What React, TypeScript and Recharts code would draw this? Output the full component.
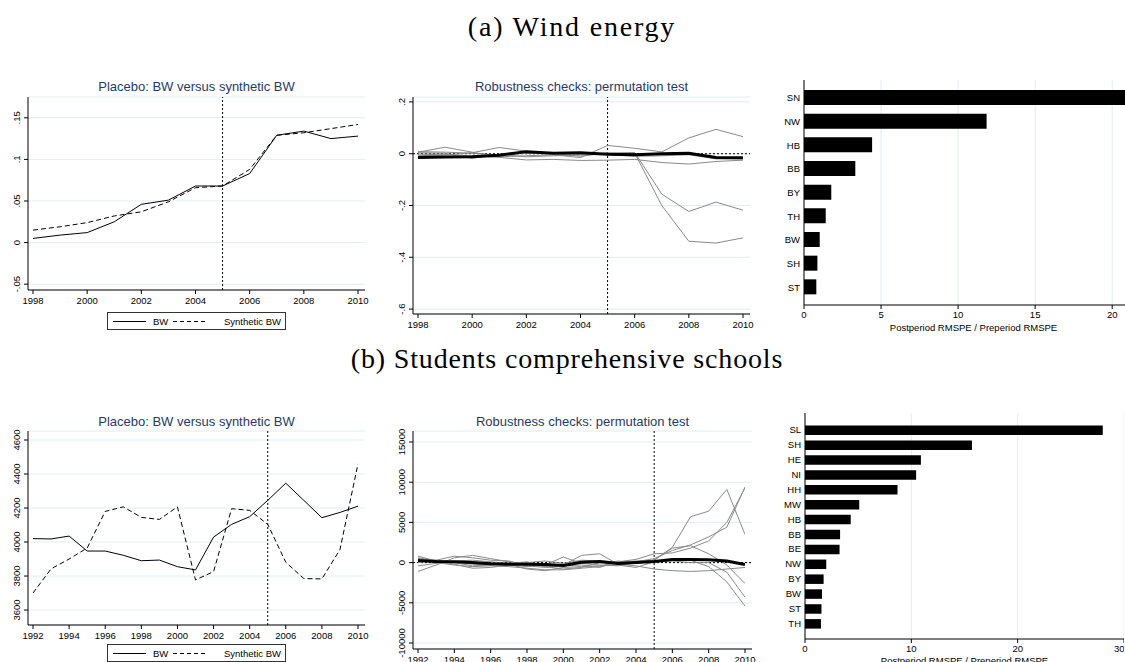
import React from 'react';
import {
  LineChart,
  Line,
  BarChart,
  Bar,
  XAxis,
  YAxis,
  CartesianGrid,
  ReferenceLine,
} from 'recharts';

// ---- (a) wind energy ----
const windYears = [1998, 1999, 2000, 2001, 2002, 2003, 2004, 2005, 2006, 2007, 2008, 2009, 2010];
const windYearTicks = [1998, 2000, 2002, 2004, 2006, 2008, 2010];
const windBW = [0.005, 0.009, 0.012, 0.025, 0.046, 0.051, 0.068, 0.068, 0.083, 0.129, 0.134, 0.125, 0.128];
const windSynthBW = [0.015, 0.019, 0.024, 0.032, 0.037, 0.049, 0.066, 0.068, 0.088, 0.129, 0.132, 0.137, 0.142];
const windLevelTicks = [-0.05, 0, 0.05, 0.1, 0.15];

const windGapBW = [-0.015, -0.013, -0.012, -0.006, 0.008, 0.002, 0.004, -0.002, -0.004, 0.0, 0.002, -0.015, -0.016];
const windGapA = [0.006, 0.025, 0.006, -0.012, -0.008, -0.004, -0.015, 0.032, 0.021, 0.007, 0.061, 0.094, 0.066];
const windGapB = [-0.008, -0.005, 0.004, 0.024, 0.01, 0.002, -0.01, 0.004, 0.003, -0.2, -0.338, -0.345, -0.325];
const windGapC = [0.004, 0.002, -0.018, -0.002, -0.012, -0.008, -0.005, -0.002, 0.005, -0.156, -0.223, -0.187, -0.218];
const windGapD = [-0.002, -0.004, -0.008, -0.014, -0.024, -0.022, -0.026, -0.025, -0.022, -0.034, -0.04, -0.03, -0.025];
const windGapE = [0.008, 0.006, 0.002, -0.005, 0.002, 0.001, 0.002, -0.003, -0.01, -0.008, -0.004, -0.02, -0.02];
const windGapTicks = [-0.6, -0.4, -0.2, 0, 0.2];

const windStates = ['SN', 'NW', 'HB', 'BB', 'BY', 'TH', 'BW', 'SH', 'ST'];
const windRatios = [21.2, 11.85, 4.42, 3.33, 1.77, 1.41, 1.02, 0.87, 0.8];
const windRatioTicks = [0, 5, 10, 15, 20];

// ---- (b) students comprehensive schools ----
const schoolYears = [1992, 1993, 1994, 1995, 1996, 1997, 1998, 1999, 2000, 2001, 2002, 2003, 2004, 2005, 2006, 2007, 2008, 2009, 2010];
const schoolYearTicks = [1992, 1994, 1996, 1998, 2000, 2002, 2004, 2006, 2008, 2010];
const schoolBW = [4020, 4018, 4035, 3947, 3947, 3922, 3890, 3894, 3855, 3836, 4029, 4104, 4149, 4245, 4346, 4245, 4143, 4174, 4211];
const schoolSynthBW = [3700, 3842, 3900, 3965, 4180, 4207, 4145, 4133, 4207, 3777, 3826, 4196, 4186, 4104, 3881, 3785, 3783, 3955, 4460];
const schoolLevelTicks = [3600, 3800, 4000, 4200, 4400, 4600];

const schoolGapBW = [250, 150, 100, 0, -150, -200, -200, -250, -350, 50, 150, -100, 0, 150, 400, 400, 350, 200, -250];
const schoolGapA = [800, 200, -200, -700, -600, -300, -500, -300, 700, -100, -300, -400, 0, 300, 1900, 5700, 6400, 9100, 3500];
const schoolGapB = [-1100, -300, 600, 900, 500, 100, -200, -500, -300, 900, 1100, -200, 100, 500, 1500, 2200, 3200, 4400, 9400];
const schoolGapC = [-400, -100, 200, 300, 100, -100, 0, 200, -100, 300, 200, 100, 400, 1100, 1200, 1800, 2700, 5000, 9300];
const schoolGapD = [500, 300, 800, 600, 300, 200, -400, -600, -400, -300, -600, 100, 200, 300, 1800, 2100, 1100, -300, -2600];
const schoolGapE = [200, 0, -300, -500, -400, -500, -700, -900, -900, -700, -500, 200, -100, 200, 300, 300, -500, -2400, -5400];
const schoolGapF = [0, 300, 100, -200, -300, -200, -800, -1000, -600, -500, -400, -300, -600, 100, 200, 0, 0, -1200, -4300];
const schoolGapG = [600, 200, 0, -400, -300, -100, 100, -500, -800, -600, 0, -200, -400, -800, -1000, -1100, -1000, -800, -600];
const schoolGapTicks = [-10000, -5000, 0, 5000, 10000, 15000];

const schoolStates = ['SL', 'SH', 'HE', 'NI', 'HH', 'MW', 'HB', 'BB', 'BE', 'NW', 'BY', 'BW', 'ST', 'TH'];
const schoolRatios = [28, 15.7, 10.9, 10.45, 8.7, 5.1, 4.3, 3.3, 3.25, 2.0, 1.75, 1.6, 1.55, 1.5];
const schoolRatioTicks = [0, 10, 20, 30];

const FONT = '"Liberation Sans", Arial, Helvetica, sans-serif';
const SERIF = '"Liberation Serif", "Times New Roman", serif';
const GRID = '#e2ecef';
const NAVY = '#1f3b66';
const GRAY = '#8a8a8a';

const YW = 26;
const PT = 10;
const PR = 12;
const XH = 24;

const stataNum = (v: number) => String(Math.round(v * 10000) / 10000).replace(/^(-?)0\./, '$1.');

const RotTick = (props: any) => {
  const { x, y, payload, fmt } = props;
  return (
    <g transform={`translate(${x},${y})`}>
      <text transform="rotate(-90)" textAnchor="middle" fontSize={9.5} fill="#000" fontFamily={FONT}>
        {fmt(payload.value)}
      </text>
    </g>
  );
};

const zipRows = (years: number[], cols: Record<string, number[]>) =>
  years.map((year, i) => {
    const row: Record<string, number> = { year };
    Object.keys(cols).forEach((k) => (row[k] = cols[k][i]));
    return row;
  });

function LinePanel({ box, rows, xDomain, xTicks, yDomain, yTicks, yFmt, series, zeroLine }: any) {
  const width = box.x1 - box.x0 + YW + PR;
  const height = box.y1 - box.y0 + PT + XH;
  return (
    <div style={{ position: 'absolute', left: box.x0 - YW, top: box.y0 - PT }}>
      <LineChart width={width} height={height} data={rows} margin={{ top: PT, right: PR, bottom: 0, left: 0 }}>
        <CartesianGrid vertical={false} stroke={GRID} />
        <XAxis
          type="number"
          dataKey="year"
          domain={xDomain}
          ticks={xTicks}
          allowDataOverflow
          padding={{ left: 5, right: 7 }}
          height={XH}
          tickSize={4}
          tickMargin={3}
          stroke="#000"
          tick={{ fontSize: 9.5, fill: '#000', fontFamily: FONT }}
        />
        <YAxis
          type="number"
          domain={yDomain}
          ticks={yTicks}
          allowDataOverflow
          width={YW}
          tickSize={4}
          tickMargin={4.5}
          stroke="#000"
          tick={<RotTick fmt={yFmt} />}
        />
        {zeroLine && <ReferenceLine y={0} stroke="#000" strokeDasharray="2 2" />}
        <ReferenceLine x={2005} stroke="#000" strokeDasharray="2 2" />
        {series.map((s: any) => (
          <Line
            key={s.key}
            type="linear"
            dataKey={s.key}
            stroke={s.color}
            strokeWidth={s.width}
            strokeDasharray={s.dash}
            dot={false}
            isAnimationActive={false}
          />
        ))}
      </LineChart>
    </div>
  );
}

function BarPanel({ box, rows, xDomain, xTicks, padTop, padBottom, barSize, xh, labelOffset }: any) {
  const width = box.x1 - box.x0 + YW;
  const height = box.y1 - box.y0 + PT + xh;
  return (
    <div style={{ position: 'absolute', left: box.x0 - YW, top: box.y0 - PT }}>
      <BarChart layout="vertical" width={width} height={height} data={rows} margin={{ top: PT, right: 0, bottom: 0, left: 0 }}>
        <CartesianGrid horizontal={false} stroke={GRID} />
        <XAxis
          type="number"
          domain={xDomain}
          ticks={xTicks}
          allowDataOverflow
          height={xh}
          tickSize={4}
          tickMargin={2}
          stroke="#000"
          tick={{ fontSize: 9.5, fill: '#000', fontFamily: FONT }}
          label={{
            value: 'Postperiod RMSPE / Preperiod RMSPE',
            position: 'insideBottom',
            offset: labelOffset,
            fontSize: 9.5,
            fill: '#000',
            fontFamily: FONT,
          }}
        />
        <YAxis
          type="category"
          dataKey="state"
          width={YW}
          interval={0}
          tickLine={false}
          tickSize={0}
          tickMargin={4}
          stroke="#000"
          padding={{ top: padTop, bottom: padBottom }}
          tick={{ fontSize: 9.5, fill: '#000', fontFamily: FONT }}
        />
        <Bar dataKey="ratio" fill="#000" barSize={barSize} isAnimationActive={false} />
      </BarChart>
    </div>
  );
}

function Title({ text, x0, x1, cy }: any) {
  return (
    <div
      style={{
        position: 'absolute',
        left: x0,
        width: x1 - x0,
        top: cy - 7,
        lineHeight: '14px',
        fontSize: 13,
        textAlign: 'center',
        color: NAVY,
        fontFamily: FONT,
        whiteSpace: 'nowrap',
      }}
    >
      {text}
    </div>
  );
}

function Heading({ text, baseline, cx, spacing }: any) {
  return (
    <div
      style={{
        position: 'absolute',
        left: cx - 562.5,
        width: 1125,
        top: baseline - 23.4,
        lineHeight: '28px',
        fontSize: 28,
        letterSpacing: spacing,
        textAlign: 'center',
        fontFamily: SERIF,
        color: '#000',
        whiteSpace: 'nowrap',
      }}
    >
      {text}
    </div>
  );
}

function LegendBox({ left, top }: any) {
  return (
    <div style={{ position: 'absolute', left, top, width: 177, height: 16, border: '1px solid #333', background: '#fff' }}>
      <svg width={177} height={16} style={{ display: 'block' }}>
        <line x1={5} x2={38} y1={8.5} y2={8.5} stroke="#000" strokeWidth={1} />
        <text x={45} y={12} fontSize={9.5} fontFamily={FONT} fill="#000">BW</text>
        <line x1={65} x2={98} y1={8.5} y2={8.5} stroke="#000" strokeWidth={1} strokeDasharray="4 3" />
        <text x={116} y={12} fontSize={9.5} fontFamily={FONT} fill="#000">Synthetic BW</text>
      </svg>
    </div>
  );
}

const levelSeries = [
  { key: 'bw', color: '#000', width: 1 },
  { key: 'synth', color: '#000', width: 1, dash: '5 3' },
];

export default function App() {
  const windLevelRows = zipRows(windYears, { bw: windBW, synth: windSynthBW });
  const windGapRows = zipRows(windYears, {
    a: windGapA, b: windGapB, c: windGapC, d: windGapD, e: windGapE, bw: windGapBW,
  });
  const windRatioRows = windStates.map((state, i) => ({ state, ratio: windRatios[i] }));
  const schoolLevelRows = zipRows(schoolYears, { bw: schoolBW, synth: schoolSynthBW });
  const schoolGapRows = zipRows(schoolYears, {
    a: schoolGapA, b: schoolGapB, c: schoolGapC, d: schoolGapD, e: schoolGapE, f: schoolGapF, g: schoolGapG, bw: schoolGapBW,
  });
  const schoolRatioRows = schoolStates.map((state, i) => ({ state, ratio: schoolRatios[i] }));

  const windGapSeries = ['a', 'b', 'c', 'd', 'e']
    .map((key) => ({ key, color: GRAY, width: 1 }))
    .concat([{ key: 'bw', color: '#000', width: 3 }]);
  const schoolGapSeries = ['a', 'b', 'c', 'd', 'e', 'f', 'g']
    .map((key) => ({ key, color: GRAY, width: 1 }))
    .concat([{ key: 'bw', color: '#000', width: 3 }]);

  return (
    <div style={{ position: 'absolute', left: 0, top: 0, width: 1125, height: 662, overflow: 'hidden', background: '#fff' }}>
      <Heading text="(a) Wind energy" baseline={36} cx={572} spacing={1.8} />
      <Heading text="(b) Students comprehensive schools" baseline={368} cx={567} spacing={0.85} />

      <Title text="Placebo: BW versus synthetic BW" x0={28} x1={365} cy={87} />
      <LinePanel
        box={{ x0: 28, y0: 97, x1: 365, y1: 290 }}
        rows={windLevelRows}
        xDomain={[1998, 2010]}
        xTicks={windYearTicks}
        yDomain={[-0.057, 0.175]}
        yTicks={windLevelTicks}
        yFmt={stataNum}
        series={levelSeries}
      />
      <LegendBox left={107} top={312} />

      <Title text="Robustness checks: permutation test" x0={413} x1={750} cy={87} />
      <LinePanel
        box={{ x0: 413, y0: 97, x1: 750, y1: 314 }}
        rows={windGapRows}
        xDomain={[1998, 2010]}
        xTicks={windYearTicks}
        yDomain={[-0.619, 0.219]}
        yTicks={windGapTicks}
        yFmt={stataNum}
        series={windGapSeries}
        zeroLine
      />

      <BarPanel
        box={{ x0: 804, y0: 80, x1: 1143, y1: 305 }}
        rows={windRatioRows}
        xDomain={[0, 22]}
        xTicks={windRatioTicks}
        padTop={6}
        padBottom={6}
        barSize={15}
        xh={28}
        labelOffset={2.5}
      />

      <Title text="Placebo: BW versus synthetic BW" x0={28} x1={365} cy={422} />
      <LinePanel
        box={{ x0: 28, y0: 431, x1: 365, y1: 625 }}
        rows={schoolLevelRows}
        xDomain={[1992, 2010]}
        xTicks={schoolYearTicks}
        yDomain={[3512, 4653]}
        yTicks={schoolLevelTicks}
        yFmt={(v: number) => String(v)}
        series={levelSeries}
      />
      <LegendBox left={107} top={644} />

      <Title text="Robustness checks: permutation test" x0={413} x1={752} cy={422} />
      <LinePanel
        box={{ x0: 413, y0: 431, x1: 752, y1: 649 }}
        rows={schoolGapRows}
        xDomain={[1992, 2010]}
        xTicks={schoolYearTicks}
        yDomain={[-10746, 16368]}
        yTicks={schoolGapTicks}
        yFmt={(v: number) => String(v)}
        series={schoolGapSeries}
        zeroLine
      />

      <BarPanel
        box={{ x0: 805, y0: 413, x1: 1124, y1: 639 }}
        rows={schoolRatioRows}
        xDomain={[0, 30]}
        xTicks={schoolRatioTicks}
        padTop={9.5}
        padBottom={8}
        barSize={9.5}
        xh={26}
        labelOffset={1.5}
      />
    </div>
  );
}
